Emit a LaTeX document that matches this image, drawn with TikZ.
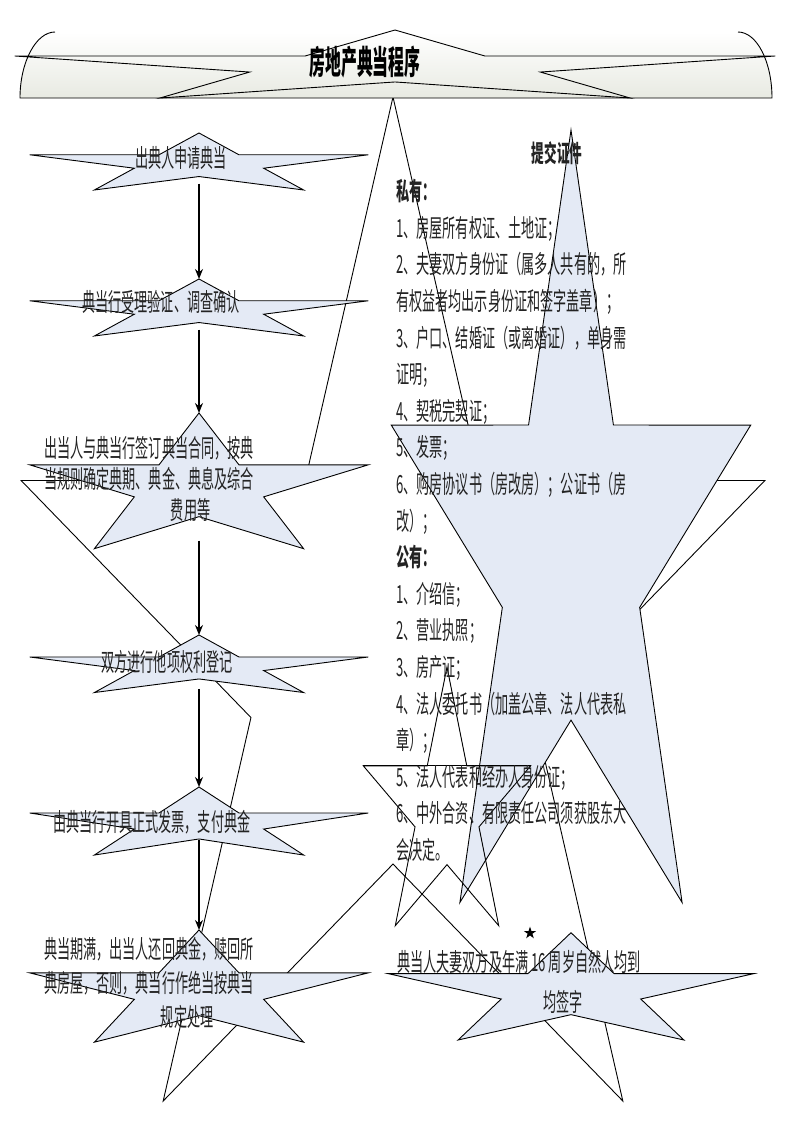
\documentclass[tikz,border=0pt]{standalone}
\usepackage{fontspec}
\setmainfont{Noto Sans CJK SC}[FakeStretch=0.525]
\newfontfamily\headfont{Noto Sans CJK SC}[FakeStretch=0.48]
\usetikzlibrary{arrows.meta}
\definecolor{starblue}{RGB}{228,234,245}
\definecolor{bannerlo}{RGB}{232,234,226}
\definecolor{ink}{RGB}{35,35,35}

\begin{document}
\begin{tikzpicture}[x=1pt, y=-1pt,
  star5/.pic={
    \path[pic actions] (-90:1) \foreach \k in {0,...,3}{ -- ({-54+72*\k}:0.382) -- ({-18+72*\k}:1)} -- (234:0.382) -- cycle;
    \coordinate (-top) at (-90:1);
    \coordinate (-bot) at (90:0.382);
    \coordinate (-lt) at (198:1);
    \coordinate (-rt) at (-18:1);
  },
  bluestar/.style={draw=black, fill=starblue, line width=0.9pt},
  openstar/.style={draw=black, line width=0.9pt},
  steptext/.style={font=\fontsize{25}{31}\selectfont, text=ink, inner sep=0pt},
  longtext/.style={font=\fontsize{25}{34}\selectfont, text=ink, inner sep=0pt, align=left},
  listtext/.style={font=\fontsize{25}{36.6}\selectfont, text=ink, inner sep=0pt, align=left},
  titletext/.style={font=\headfont\bfseries\fontsize{33}{36}\selectfont, inner sep=0pt},
  flowarrow/.style={line width=1.6pt, -{Stealth[length=10pt, width=8pt]}}
]
\useasboundingbox (0,0) rectangle (793,1122);

\pic[openstar, shift={(393,652)}, xscale=391, yscale=555] (back) {star5};

\shade[top color=white, bottom color=bannerlo] (20,98) .. controls (20,62) and (36,32) .. (55,32) -- (738,32) .. controls (757,32) and (772,62) .. (772,98) -- cycle;
\draw[line width=0.9pt] (55,32) .. controls (36,32) and (20,62) .. (20,98) -- (772,98) .. controls (772,62) and (757,32) .. (738,32);
\pic[openstar, shift={(395,67.6)}, xscale=400, yscale=37.6] (head) {star5};

\foreach \n/\ypos/\ry in {s1/164.5/31.5, s2/310.5/31.5, s3/488/75, s4/666.8/31.8, s5/824.6/37.6, s6/992/62}
  \pic[bluestar, shift={(199,\ypos)}, xscale=178, yscale=\ry] (\n) {star5};

\foreach \up/\dn/\gap in {s1/s2/7pt, s2/s3/7pt, s3/s4/24pt, s4/s5/10pt, s5/s6/1pt}
  \draw[flowarrow, shorten <=\gap] (\up-bot) -- (\dn-top);

\pic[bluestar, shift={(571,557)}, xscale=189, yscale=427] (docstar) {star5};
\pic[bluestar, shift={(571,992)}, xscale=192, yscale=59.3] (sign) {star5};
\pic[openstar, shift={(447,810)}, xscale=88, yscale=143] (mid) {star5};
\draw[openstar] (mid-lt) -- (mid-rt);
\pic[fill=black, shift={(530,933)}, scale=6.5] (mark) {star5};

\node[titletext] (title) at (365,62) {房地产典当程序};

\node[steptext] (t1) at (181,158) {出典人申请典当};
\node[steptext] (t2) at (161,302) {典当行受理验证、调查确认};
\node[longtext, font=\fontsize{25}{31}\selectfont] (t3) at (149,479) {出当人与典当行签订典当合同，按典\\当规则确定典期、典金、典息及综合\\\hspace*{127pt}费用等};
\node[steptext] (t4) at (167,662) {双方进行他项权利登记};
\node[steptext] (t5) at (152,822) {由典当行开具正式发票，支付典金};
\node[longtext] (t6) at (149,983) {典当期满，出当人还回典金，赎回所\\典房屋，否则，典当行作绝当按典当\\\hspace*{117pt}规定处理};

\node[steptext, font=\bfseries\fontsize{24}{26}\selectfont] (docs) at (557,153) {提交证件};
\node[listtext, anchor=north west] (list) at (396,179) {\textbf{私有：}\\
1、房屋所有权证、土地证；\\
2、夫妻双方身份证（属多人共有的，所\\
有权益者均出示身份证和签字盖章）；\\
3、户口、结婚证（或离婚证），单身需\\
证明；\\
4、契税完契证；\\
5、发票；\\
6、购房协议书（房改房）；公证书（房\\
改）；\\
\textbf{公有：}\\
1、介绍信；\\
2、营业执照；\\
3、房产证；\\
4、法人委托书（加盖公章、法人代表私\\
章）；\\
5、法人代表和经办人身份证；\\
6、中外合资、有限责任公司须获股东大\\
会决定。};

\node[longtext, font=\fontsize{25}{40}\selectfont, anchor=west] (signtext) at (397,982) {典当人夫妻双方及年满 16 周岁自然人均到\\\hspace*{146pt}均签字};
\end{tikzpicture}
\end{document}
